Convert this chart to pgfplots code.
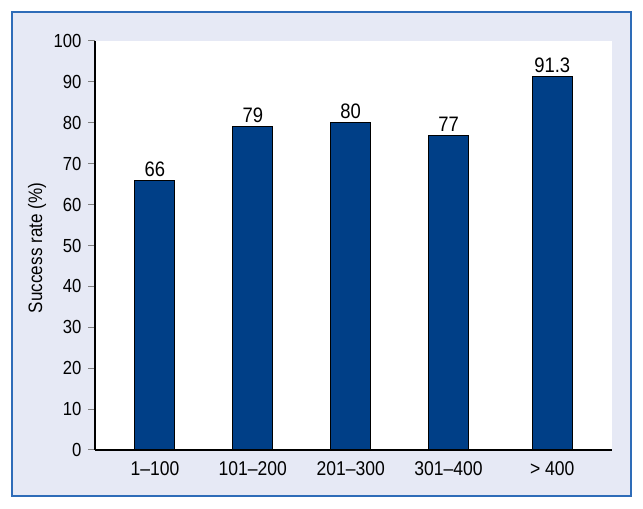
\documentclass[border=0pt]{standalone}
\usepackage{fontspec}
\setmainfont[FakeStretch=0.88]{Liberation Sans}
\usepackage{pgfplots}
\pgfplotsset{compat=1.18}
\definecolor{barblue}{RGB}{0,63,135}
\definecolor{panelbg}{RGB}{230,233,245}
\definecolor{frameblue}{RGB}{46,108,184}

\begin{document}
\begin{tikzpicture}[x=1bp,y=1bp]
\path (0,0) rectangle (643,509);
\fill[panelbg] (12,13) rectangle (631,497);
\draw[frameblue, line width=1.5bp] (12,13) rectangle (631,497);
\begin{axis}[
    at={(95bp,59bp)}, anchor=south west,
    scale only axis, width=517bp, height=409bp,
    xmin=-0.613, xmax=4.671, ymin=0, ymax=100,
    axis x line*=bottom, axis y line*=left,
    axis line style={line width=1.1bp},
    axis background/.style={fill=white},
    ybar, bar width=40bp,
    xtick={0,1,2,3,4.06},
    xticklabels={1–100, 101–200, 201–300, 301–400, > 400},
    xtick style={draw=none},
    ytick={0,10,...,100},
    ytick style={line width=1bp},
    tick align=outside, major tick length=7bp,
    /pgf/number format/assume math mode=true,
    yticklabel style={font=\fontsize{19}{22}\selectfont, xshift=-3bp},
    xticklabel style={font=\fontsize{20}{23}\selectfont, yshift=-1bp},
    ylabel={Success rate (\%)},
    ylabel style={at={(axis description cs:-0.112,0.494)}, anchor=center,
        font=\fontsize{19.5}{22}\selectfont},
    nodes near coords,
    nodes near coords style={font=\fontsize{21}{24}\selectfont, black, yshift=0bp},
]
\addplot[fill=barblue, draw=black, line width=1bp]
    coordinates {(0,66) (1,79) (2,80) (3,77) (4.06,91.3)};
\end{axis}
\end{tikzpicture}
\end{document}
